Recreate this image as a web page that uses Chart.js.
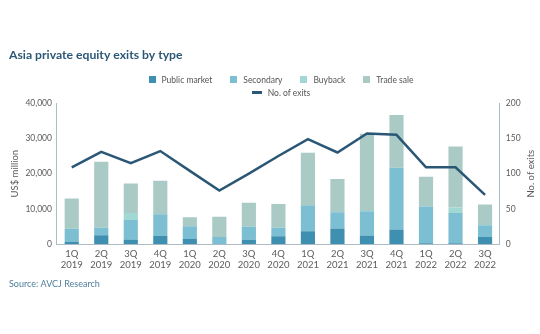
<!DOCTYPE html>
<html>
<head>
<meta charset="utf-8">
<title>Asia private equity exits by type</title>
<script src="https://cdn.jsdelivr.net/npm/chart.js@4.4.1/dist/chart.umd.min.js"></script>
<style>
  body { margin: 0; background: #fff; }
  #box { position: relative; width: 540px; height: 334px; }
  #legend { position: absolute; left: 0; top: 73.5px; width: 562px; text-align: center;
            font-family: Lato, sans-serif; font-size: 8.5px; color: #555; }
  .row { height: 13.3px; line-height: 13.3px; white-space: nowrap; }
  .item { display: inline-block; margin: 0 9px; }
  .sw { display: inline-block; width: 7px; height: 7px; margin-right: 6px; vertical-align: -0.5px; }
  .sw.line { width: 10px; height: 2.5px; vertical-align: 2px; }
</style>
</head>
<body>
<div id="box">
  <canvas id="chart" width="540" height="334"></canvas>
  <div id="legend"></div>
</div>
<script>
// quarters along the x axis
const quarters = ['1Q','2Q','3Q','4Q','1Q','2Q','3Q','4Q','1Q','2Q','3Q','4Q','1Q','2Q','3Q'];
const years = ['2019','2019','2019','2019','2020','2020','2020','2020','2021','2021','2021','2021','2022','2022','2022'];

// exit value, US$ million
const publicMarket = [700, 2600, 1400, 2400, 1500, 100, 1300, 2300, 3700, 4500, 2500, 4200, 300, 300, 2100];
const secondary = [3700, 2100, 5500, 6100, 3600, 2000, 3700, 2400, 7400, 4600, 6900, 17500, 10400, 8600, 3300];
const buyback = [0, 0, 2000, 0, 0, 0, 0, 0, 0, 0, 0, 0, 0, 1500, 0];
const tradeSale = [8600, 18700, 8300, 9500, 2600, 5700, 6800, 6700, 14800, 9400, 21900, 14900, 8400, 17300, 5900];

// number of exits (right axis)
const exits = [109, 131, 115, 132, 104, 76, 100, 125, 149, 130, 157, 155, 109, 109, 70];

const leftTicks = [0, 10000, 20000, 30000, 40000];
const rightTicks = [0, 50, 100, 150, 200];
const rightTitle = 'No. of exits';

const axisColor = '#aebcc6';
const tickColor = '#5c5c5c';

const rightTitlePlugin = {
  id: 'rightTitle',
  afterDraw(chart) {
    const s = chart.scales.y1;
    const ctx = chart.ctx;
    ctx.save();
    ctx.translate(s.right - 5.7, (s.top + s.bottom) / 2);
    ctx.rotate(-Math.PI / 2);
    ctx.font = '9.5px Lato';
    ctx.fillStyle = tickColor;
    ctx.textAlign = 'center';
    ctx.textBaseline = 'middle';
    ctx.fillText(rightTitle, 0, 0);
    ctx.restore();
  }
};

const chart = new Chart(document.getElementById('chart'), {
  type: 'bar',
  data: {
    labels: quarters.map((q, i) => [q, years[i]]),
    datasets: [
      { label: 'Public market', data: publicMarket, backgroundColor: '#3e8fb0', order: 1 },
      { label: 'Secondary', data: secondary, backgroundColor: '#7dbfd2', order: 1 },
      { label: 'Buyback', data: buyback, backgroundColor: '#a2d8d3', order: 1 },
      { label: 'Trade sale', data: tradeSale, backgroundColor: '#aacbc5', order: 1 },
      {
        type: 'line', label: 'No. of exits', data: exits, yAxisID: 'y1',
        borderColor: '#2b5776', backgroundColor: '#2b5776',
        borderWidth: 2.5, pointRadius: 0, tension: 0, order: 0
      }
    ]
  },
  options: {
    responsive: false,
    animation: false,
    layout: { padding: { left: 9, right: 3 } },
    datasets: { bar: { barPercentage: 0.6, categoryPercentage: 0.8 } },
    plugins: {
      legend: { display: false },
      tooltip: { enabled: false },
      title: {
        display: true,
        text: 'Asia private equity exits by type',
        align: 'start',
        color: '#2c5776',
        font: { family: 'Lato', size: 12.2, weight: 'bold' },
        padding: { top: 47.7, bottom: 40.7 }
      },
      subtitle: {
        display: true,
        position: 'bottom',
        align: 'start',
        text: 'Source: AVCJ Research',
        color: '#4d7d9b',
        font: { family: 'Lato', size: 9 },
        padding: { top: 4, bottom: 45 }
      }
    },
    scales: {
      x: {
        stacked: true,
        grid: { display: false, drawTicks: false },
        border: { color: axisColor },
        ticks: {
          color: tickColor, padding: 4, maxRotation: 0, autoSkip: false,
          font: { family: 'Lato', size: 9.5, lineHeight: 1.15 }
        }
      },
      y: {
        stacked: true,
        min: leftTicks[0],
        max: leftTicks[leftTicks.length - 1],
        afterBuildTicks: s => { s.ticks = leftTicks.map(v => ({ value: v })); },
        grid: { display: false, drawTicks: false },
        border: { color: axisColor },
        ticks: {
          color: tickColor, padding: 5,
          font: { family: 'Lato', size: 8.5 },
          callback: v => v.toLocaleString('en-US')
        },
        title: {
          display: true, text: 'US$ million', color: tickColor,
          font: { family: 'Lato', size: 9.5 }, padding: { top: 0, bottom: 0 }
        }
      },
      y1: {
        position: 'right',
        min: rightTicks[0],
        max: rightTicks[rightTicks.length - 1],
        afterBuildTicks: s => { s.ticks = rightTicks.map(v => ({ value: v })); },
        afterFit: s => { s.width += 10.4; },
        grid: { display: false, drawTicks: false },
        border: { color: axisColor },
        ticks: { color: tickColor, padding: 6, font: { family: 'Lato', size: 8.5 } }
      }
    }
  },
  plugins: [rightTitlePlugin]
});

// html legend: the four bar series on one row, the line below
const legendEl = document.getElementById('legend');
const rows = [[], []];
chart.data.datasets.forEach(ds => {
  const isLine = ds.type === 'line';
  const item = '<span class="item"><span class="sw' + (isLine ? ' line' : '') +
    '" style="background:' + (isLine ? ds.borderColor : ds.backgroundColor) + '"></span>' + ds.label + '</span>';
  rows[isLine ? 1 : 0].push(item);
});
legendEl.innerHTML = rows.map(r => '<div class="row">' + r.join('') + '</div>').join('');
</script>
</body>
</html>
